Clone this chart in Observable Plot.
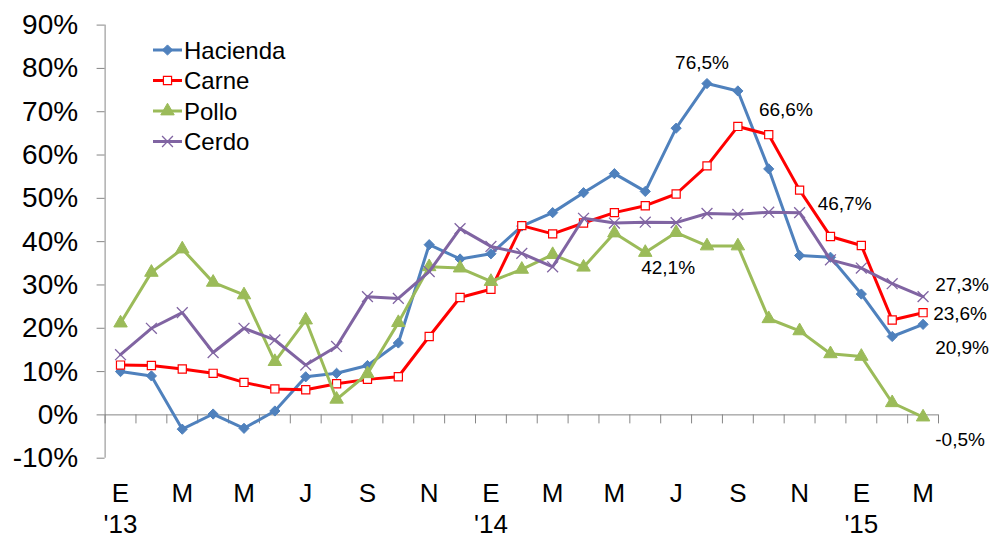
<!DOCTYPE html>
<html>
<head>
<meta charset="utf-8">
<script src="https://cdn.jsdelivr.net/npm/d3@7"></script>
<script src="https://cdn.jsdelivr.net/npm/@observablehq/plot@0.6"></script>
<style>
  html, body { margin: 0; padding: 0; background: #fff; }
  #chart svg { display: block; }
</style>
</head>
<body>
<div id="chart"></div>
<script>
// ---- Data (monthly, Jan 2013 .. Mar 2015) ----
const tickLabels = ["E","M","M","J","S","N","E","M","M","J","S","N","E","M"];
const yearLabels = ["'13","'14","'15"];
const seriesNames = ["Hacienda","Carne","Pollo","Cerdo"];

const hacienda = [10.0, 9.0, -3.3, 0.2, -3.1, 0.9, 8.8, 9.6, 11.4, 16.6, 39.3, 36.0, 37.2, 43.6, 46.7, 51.3, 55.7, 51.6, 66.2, 76.5, 74.8, 56.8, 36.8, 36.4, 27.9, 18.1, 20.9];
const carne    = [11.5, 11.4, 10.6, 9.6, 7.5, 6.0, 5.8, 7.2, 8.2, 8.8, 18.1, 27.1, 29.0, 43.7, 41.8, 44.3, 46.7, 48.3, 51.0, 57.5, 66.6, 64.7, 51.9, 41.2, 39.1, 21.9, 23.6];
const pollo    = [21.2, 32.9, 38.3, 30.6, 27.7, 12.3, 21.9, 3.6, 9.5, 21.3, 34.2, 33.9, 30.8, 33.6, 37.0, 34.1, 42.0, 37.5, 42.1, 39.0, 39.0, 22.2, 19.4, 14.1, 13.5, 2.8, -0.5];
const cerdo    = [13.9, 20.0, 23.6, 14.4, 20.0, 17.3, 11.5, 15.8, 27.3, 26.9, 33.1, 43.0, 38.9, 37.3, 34.2, 45.4, 44.3, 44.5, 44.4, 46.5, 46.3, 46.8, 46.7, 35.8, 33.9, 30.3, 27.3];

// labelled points: [series, month index]
const labelledPoints = [
  ["Hacienda", 19], ["Carne", 20], ["Cerdo", 22], ["Pollo", 18],
  ["Cerdo", 26], ["Carne", 26], ["Hacienda", 26], ["Pollo", 26]
];

// ---- styling ----
const values = {Hacienda: hacienda, Carne: carne, Pollo: pollo, Cerdo: cerdo};
const style = {
  Hacienda: {color: "#4F81BD", symbol: "diamond2", fill: "#4F81BD", r: 4.6, sw: 1},
  Carne:    {color: "#FF0000", symbol: "square",   fill: "#FFFFFF", r: 4.6, sw: 1.2},
  Pollo:    {color: "#9BBB59", symbol: "triangle", fill: "#9BBB59", r: 5, sw: 1},
  Cerdo:    {color: "#8064A2", symbol: "times",    fill: "none",    r: 5, sw: 1.3}
};
const labelOffsets = {
  "Hacienda-19": [-5, -21], "Carne-20": [48, -17], "Cerdo-22": [45, -9], "Pollo-18": [-8, 35],
  "Cerdo-26": [39, -12], "Carne-26": [37, 1], "Hacienda-26": [39, 24], "Pollo-26": [37, 23]
};

const rows = seriesNames.flatMap(s => values[s].map((v, i) => ({series: s, i, v})));
const fmt = v => v.toFixed(1).replace(".", ",") + "%";
const gray = "#868686";
const font = "'Liberation Sans', Arial, sans-serif";

const boundaries = d3.range(-0.5, 27, 1);

const marks = [
  // y axis line
  Plot.ruleX([-0.5], {stroke: gray, strokeWidth: 1}),
  Plot.axisY({
    ticks: d3.range(-10, 91, 10), tickSize: 8, tickPadding: 19, label: null,
    tickFormat: d => d + "%", fontSize: 28, fontFamily: font, stroke: gray, fill: "#000"
  }),
  // zero line + month ticks
  Plot.ruleY([0], {stroke: gray, strokeWidth: 1}),
  Plot.ruleX(boundaries, {y1: 0, y2: 0, insetBottom: -9, stroke: gray, strokeWidth: 1}),
  Plot.axisX({
    ticks: d3.range(0, 27, 2), tickSize: 0, tickPadding: 25, label: null,
    tickFormat: d => tickLabels[d / 2], fontSize: 26, fontFamily: font, fill: "#000"
  }),
  Plot.axisX({
    ticks: [0, 12, 24], tickSize: 0, tickPadding: 56, label: null,
    tickFormat: d => yearLabels[d / 12], fontSize: 26, fontFamily: font, fill: "#000"
  })
];

for (const s of seriesNames) {
  const st = style[s];
  const data = rows.filter(d => d.series === s);
  marks.push(Plot.line(data, {x: "i", y: "v", stroke: st.color, strokeWidth: 3, strokeLinejoin: "round"}));
  marks.push(Plot.dot(data, {
    x: "i", y: "v", symbol: () => st.symbol, r: st.r,
    fill: st.fill, stroke: st.color, strokeWidth: st.sw
  }));
}

const labelRows = labelledPoints.map(([s, i]) => ({series: s, i, v: values[s][i], key: s + "-" + i}));
for (const d of labelRows) {
  const [dx, dy] = labelOffsets[d.key];
  marks.push(Plot.text([d], {x: "i", y: "v", text: d => fmt(d.v), dx, dy, fontSize: 19, fontFamily: font, fill: "#000"}));
}

const chart = Plot.plot({
  width: 990, height: 538,
  marginLeft: 104.6, marginRight: 52, marginTop: 24.6, marginBottom: 80.3,
  x: {type: "linear", domain: [-0.5, 26.5], axis: null},
  y: {domain: [-10, 90], axis: null},
  symbol: {type: "identity"},
  style: {fontFamily: font, background: "#fff", overflow: "visible"},
  marks
});

// ---- legend (inside the SVG, top-left) ----
const svg = d3.select(chart);
const lg = svg.append("g").attr("transform", "translate(153,50)").attr("text-anchor", "start");
const symMap = {diamond2: d3.symbolDiamond2, square: d3.symbolSquare, triangle: d3.symbolTriangle, times: d3.symbolTimes};
seriesNames.forEach((s, k) => {
  const st = style[s];
  const g = lg.append("g").attr("transform", `translate(0,${k * 30.5})`);
  g.append("line").attr("x1", 0).attr("x2", 29).attr("y1", 0).attr("y2", 0)
    .attr("stroke", st.color).attr("stroke-width", 3);
  g.append("path").attr("transform", "translate(14.5,0)")
    .attr("d", d3.symbol(symMap[st.symbol], Math.PI * st.r * st.r)())
    .attr("fill", st.fill).attr("stroke", st.color).attr("stroke-width", st.sw);
  g.append("text").attr("x", 31).attr("y", 0).attr("dy", "0.36em")
    .attr("text-anchor", "start")
    .attr("font-size", 24).attr("font-family", font).attr("fill", "#000").text(s);
});

document.getElementById("chart").appendChild(chart);
</script>
</body>
</html>
